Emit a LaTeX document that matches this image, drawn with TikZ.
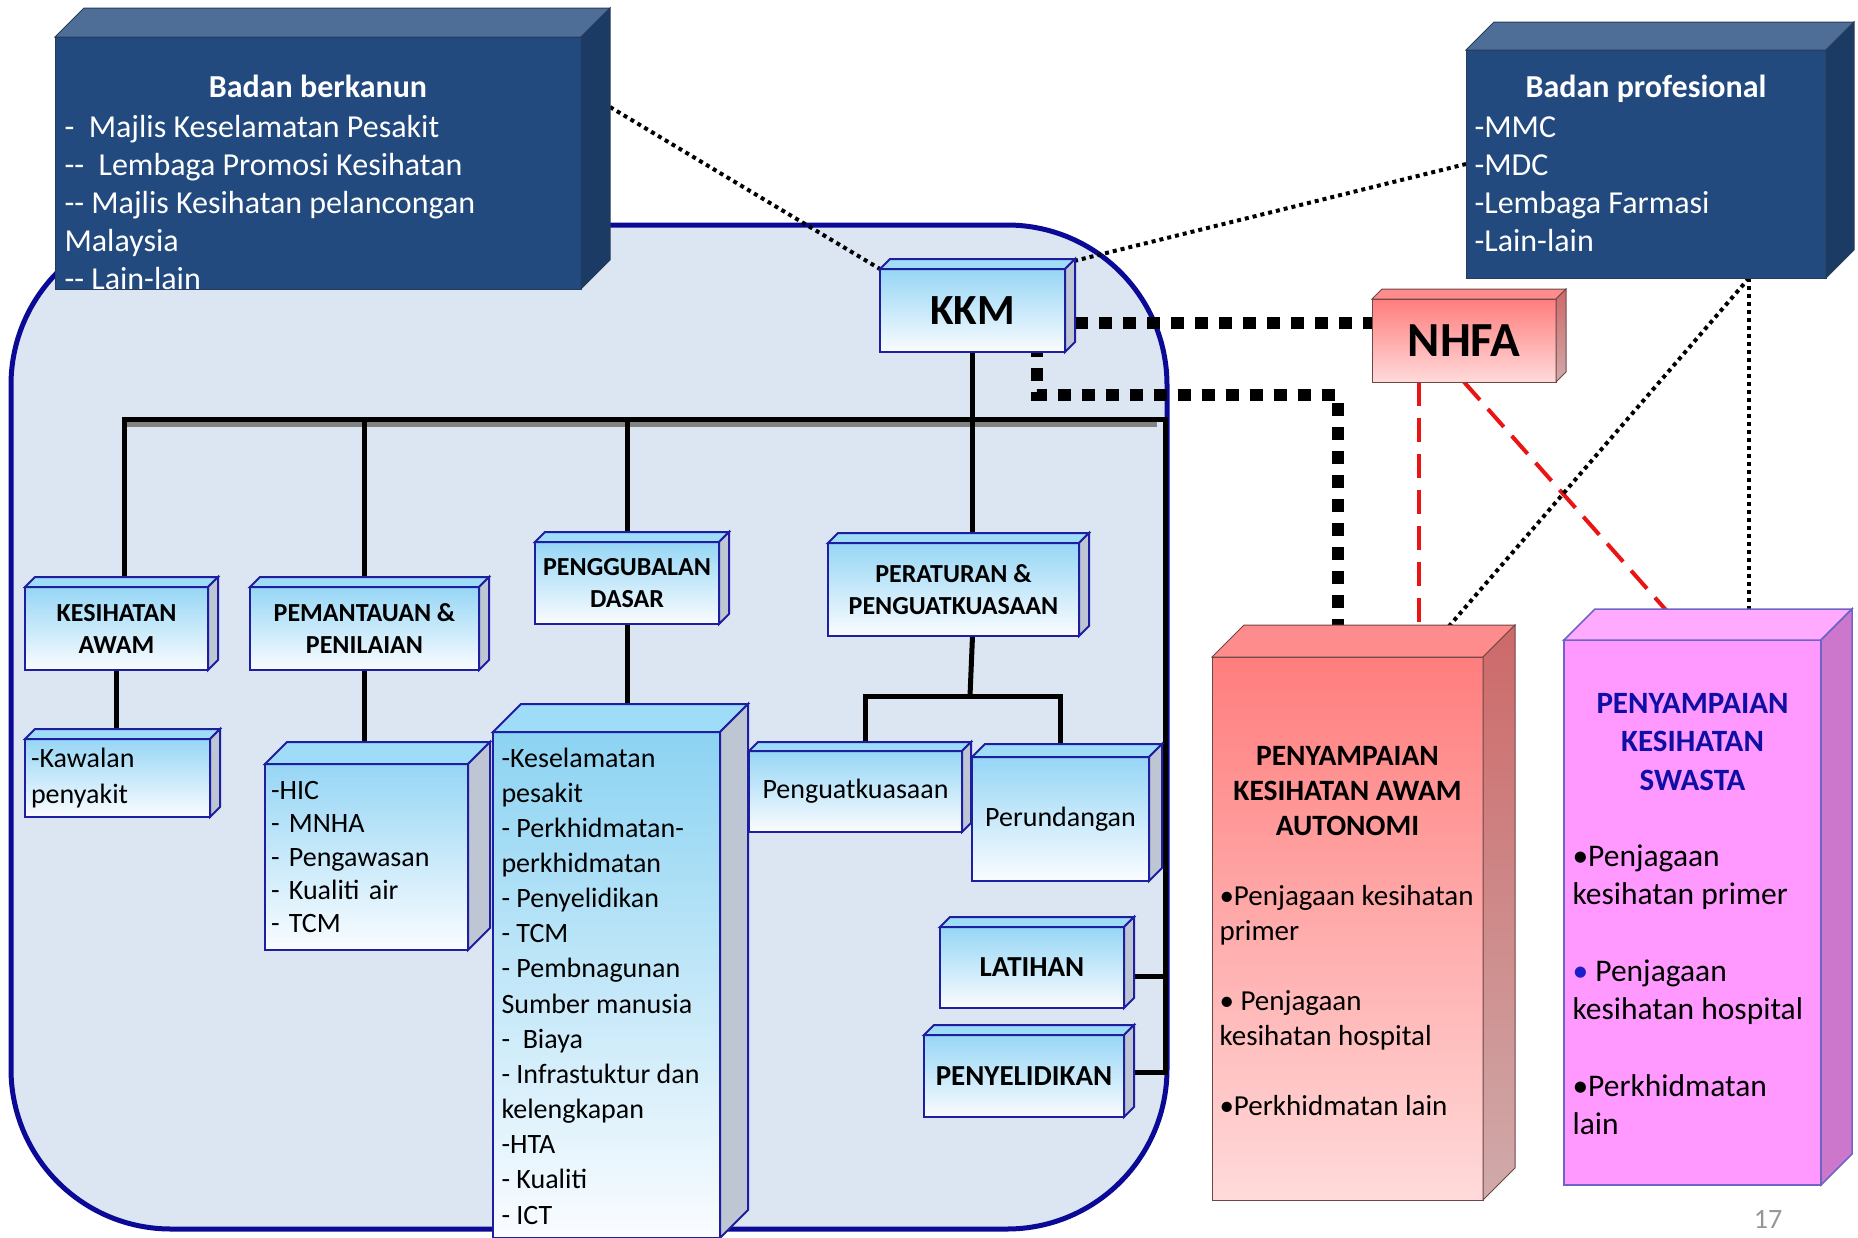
\documentclass[tikz,border=0pt]{standalone}
\usepackage{fontspec}
\setmainfont{Carlito}
\usetikzlibrary{calc}
\pgfdeclarelayer{latar}
\pgfdeclarelayer{garisan}
\pgfsetlayers{latar,garisan,main}

\definecolor{latarBiru}{RGB}{220,230,242}
\definecolor{biruTua}{RGB}{10,10,150}
\definecolor{tepiBiru}{RGB}{30,30,160}
\definecolor{biruAtas}{RGB}{158,220,247}
\definecolor{biruMuka}{RGB}{150,214,245}
\definecolor{biruSenarai}{RGB}{140,211,242}
\definecolor{putihMuka}{RGB}{250,252,255}
\definecolor{kelabuSisi}{RGB}{190,198,212}
\definecolor{navyMuka}{RGB}{34,74,126}
\definecolor{navyAtas}{RGB}{78,110,152}
\definecolor{navySisi}{RGB}{27,58,100}
\definecolor{navyTepi}{RGB}{40,60,90}
\definecolor{merahAtas}{RGB}{255,140,140}
\definecolor{merahMuka}{RGB}{255,125,125}
\definecolor{merahBawah}{RGB}{255,218,218}
\definecolor{merahSisi}{RGB}{205,105,105}
\definecolor{merahSisiB}{RGB}{208,170,170}
\definecolor{merahTepi}{RGB}{110,70,70}
\definecolor{merahGaris}{RGB}{235,20,20}
\definecolor{unguMuka}{RGB}{255,153,255}
\definecolor{unguAtas}{RGB}{255,170,255}
\definecolor{unguSisi}{RGB}{204,119,204}
\definecolor{unguTepi}{RGB}{110,100,200}
\definecolor{unguTajuk}{RGB}{15,15,165}
\definecolor{biruPeluru}{RGB}{30,30,200}
\definecolor{nomborHal}{RGB}{150,150,150}
\definecolor{bayang}{RGB}{130,130,130}

\tikzset{
  kotak/.style={draw=tepiBiru, line width=2pt, outer sep=0pt, inner sep=0pt, top color=biruMuka, bottom color=putihMuka, align=center},
  kotakNavy/.style={draw=navyTepi, line width=1pt, outer sep=0pt, fill=navyMuka},
  kotakMerah/.style={draw=merahTepi, line width=1pt, outer sep=0pt, top color=merahMuka, bottom color=merahBawah},
  kotakUngu/.style={draw=unguTepi, line width=1.5pt, outer sep=0pt, fill=unguMuka},
  atasBiru/.style={fill=biruAtas, draw=tepiBiru, line width=2pt},
  sisiBiru/.style={fill=kelabuSisi, draw=tepiBiru, line width=2pt},
  atasNavy/.style={fill=navyAtas, draw=navyTepi, line width=1pt},
  sisiNavy/.style={fill=navySisi, draw=navyTepi, line width=1pt},
  atasMerah/.style={fill=merahAtas, draw=merahTepi, line width=1pt},
  sisiMerah/.style={top color=merahSisi, bottom color=merahSisiB, draw=merahTepi, line width=1pt},
  atasUngu/.style={fill=unguAtas, draw=unguTepi, line width=1.5pt},
  sisiUngu/.style={fill=unguSisi, draw=unguTepi, line width=1.5pt},
  tebal/.style={font=\bfseries\fontsize{26}{32}\selectfont},
  biasa/.style={font=\fontsize{28}{36}\selectfont},
  garis/.style={line width=5pt},
  titik/.style={line width=4pt, dash pattern=on 4pt off 4pt},
  titikTebal/.style={line width=12pt, dash pattern=on 13pt off 11pt},
  merahPutus/.style={draw=merahGaris, line width=4pt, dash pattern=on 24pt off 12pt},
  bingkai/.style={draw=biruTua, line width=5pt, fill=latarBiru, rounded corners=160pt},
}

\begin{document}
\begin{tikzpicture}[x=1pt,y=-1pt]
\useasboundingbox (0,0) rectangle (1858,1237);
%kawasan KKM
\begin{pgfonlayer}{latar}
\draw[bingkai] (11,225) rectangle (1167,1229);
\end{pgfonlayer}

%badan di atas
\node[kotakNavy, minimum width=526pt, minimum height=252pt] (badanB) at (318,163) {};
\node[kotakNavy, minimum width=360pt, minimum height=228pt] (badanP) at (1646,164) {};
\node[kotak, font=\bfseries\fontsize{43}{50}\selectfont, minimum width=185pt, minimum height=83pt] (kkm) at (972.5,310.5) {KKM};
\node[kotakMerah, font=\bfseries\fontsize{49}{56}\selectfont, minimum width=184pt, minimum height=83pt] (nhfa) at (1464,340.5) {NHFA};

%bahagian dalam KKM
\node[kotak, tebal, minimum width=183pt, minimum height=83pt] (kesihatan) at (116.5,628.5) {KESIHATAN\\AWAM};
\node[kotak, biasa, align=left, text width=173pt, minimum width=185pt, minimum height=78pt] (kawalan) at (117.5,778) {-Kawalan\\penyakit};
\node[kotak, tebal, minimum width=229pt, minimum height=83pt] (pemantauan) at (364.5,628.5) {PEMANTAUAN \&\\PENILAIAN};
\node[kotak, align=left, text width=191pt, font=\fontsize{28}{33.5}\selectfont, minimum width=203pt, minimum height=186pt] (hic) at (366.5,857) {-HIC\\- MNHA\\- Pengawasan\\- Kualiti air\\- TCM};
\node[kotak, tebal, minimum width=184pt, minimum height=82pt] (dasar) at (627,583) {PENGGUBALAN\\DASAR};
\node[kotak, top color=biruSenarai, minimum width=227pt, minimum height=506pt] (senarai) at (606.5,985) {};
\node[kotak, tebal, minimum width=251pt, minimum height=93pt] (peraturan) at (953.5,589.5) {PERATURAN \&\\PENGUATKUASAAN};
\node[kotak, biasa, minimum width=213pt, minimum height=81pt] (penguat) at (855.5,791.5) {Penguatkuasaan};
\node[kotak, biasa, minimum width=177pt, minimum height=124pt] (perundangan) at (1060.5,819) {Perundangan};
\node[kotak, font=\bfseries\fontsize{29}{35}\selectfont, minimum width=184pt, minimum height=81pt] (latihan) at (1032,967.5) {LATIHAN};
\node[kotak, font=\bfseries\fontsize{29}{35}\selectfont, minimum width=200pt, minimum height=82pt] (penyelidikan) at (1024,1076) {PENYELIDIKAN};

%penyampaian
\node[kotakMerah, minimum width=271pt, minimum height=543pt] (awam) at (1347.5,928.5) {};
\node[kotakUngu, minimum width=257pt, minimum height=545pt] (swasta) at (1692.5,912.5) {};

%muka atas dan sisi
\foreach \nama/\dalam/\atas/\sisi in {badanB/29/atasNavy/sisiNavy, badanP/28/atasNavy/sisiNavy,
  kkm/10/atasBiru/sisiBiru, nhfa/10/atasMerah/sisiMerah, kesihatan/10/atasBiru/sisiBiru,
  kawalan/10/atasBiru/sisiBiru, pemantauan/10/atasBiru/sisiBiru, hic/22/atasBiru/sisiBiru,
  dasar/10/atasBiru/sisiBiru, senarai/28/atasBiru/sisiBiru, peraturan/10/atasBiru/sisiBiru,
  penguat/9/atasBiru/sisiBiru, perundangan/13/atasBiru/sisiBiru, latihan/10/atasBiru/sisiBiru,
  penyelidikan/10/atasBiru/sisiBiru, awam/32/atasMerah/sisiMerah, swasta/31/atasUngu/sisiUngu}{
  \path[\atas] (\nama.north west) -- ++(\dalam,-\dalam) -- ($(\nama.north east)+(\dalam,-\dalam)$) -- (\nama.north east) -- cycle;
  \path[\sisi] (\nama.north east) -- ++(\dalam,-\dalam) -- ($(\nama.south east)+(\dalam,-\dalam)$) -- (\nama.south east) -- cycle;
}

%teks (anchor base = baris terakhir)
\node[text=white, anchor=base, font=\bfseries\fontsize{32}{38}\selectfont] (tajukB) at (318,97) {Badan berkanun};
\node[text=white, anchor=base west, align=left, font=\fontsize{32}{38}\selectfont] (isiB) at (61,289)
  {-\ \ Majlis Keselamatan Pesakit\\-{}-\ \ Lembaga Promosi Kesihatan\\-{}- Majlis Kesihatan pelancongan\\Malaysia\\-{}- Lain-lain};
\node[text=white, anchor=base, font=\bfseries\fontsize{32}{38}\selectfont] (tajukP) at (1646,97) {Badan profesional};
\node[text=white, anchor=base west, align=left, font=\fontsize{32}{38}\selectfont] (isiP) at (1471,251)
  {-MMC\\-MDC\\-Lembaga Farmasi\\-Lain-lain};
\node[anchor=base west, align=left, font=\fontsize{28}{35.15}\selectfont] (isiSenarai) at (498,1224)
  {-Keselamatan\\pesakit\\- Perkhidmatan-\\perkhidmatan\\- Penyelidikan\\- TCM\\- Pembnagunan\\Sumber manusia\\-\ \ Biaya\\- Infrastuktur dan\\kelengkapan\\-HTA\\- Kualiti\\- ICT};
\node[anchor=base, align=center, font=\bfseries\fontsize{29.5}{35}\selectfont] (tajukAwam) at (1347.5,835)
  {PENYAMPAIAN\\KESIHATAN AWAM\\AUTONOMI};
\node[anchor=base west, align=left, font=\fontsize{29}{35}\selectfont] (isiAwam) at (1216,1115)
  {•Penjagaan kesihatan\\primer\\[35pt]• Penjagaan\\kesihatan hospital\\[35pt]•Perkhidmatan lain};
\node[anchor=base, align=center, text=unguTajuk, font=\bfseries\fontsize{31}{38.5}\selectfont] (tajukSwasta) at (1692.5,790)
  {PENYAMPAIAN\\KESIHATAN\\SWASTA};
\node[anchor=base west, align=left, font=\fontsize{31.5}{38}\selectfont] (isiSwasta) at (1569,1134)
  {•Penjagaan\\kesihatan primer\\[39pt]{\color{biruPeluru}•} Penjagaan\\kesihatan hospital\\[39pt]•Perkhidmatan\\lain};
\node[anchor=base, inner sep=0pt, text=nomborHal, font=\fontsize{28}{34}\selectfont] (hal) at (1768,1228) {17};

%garis penyambung
\begin{pgfonlayer}{garisan}
\coordinate (busR) at (1165,419);
\coordinate (cabang) at (970,696);
\coordinate (belok) at (1338,395);
\draw[garis, bayang] ($(kesihatan.north)+(8,-163)$) -- ($(busR)+(-8,5)$);
\draw[garis] ($(kesihatan.north)+(8,0)$) |- (busR) |- ($(penyelidikan.east)+(0,-4)$);
\draw[garis] (pemantauan.north |- busR) -- (pemantauan.north);
\draw[garis] (dasar.north |- busR) -- (dasar.north);
\draw[garis] (kkm.south) -- (kkm.south |- peraturan.north);
\draw[garis] ($(latihan.east)+(0,9)$) -- ($(latihan.east -| busR)+(0,9)$);
\draw[garis] (kesihatan.south) -- (kesihatan.south |- kawalan.north);
\draw[garis] (pemantauan.south) -- (pemantauan.south |- hic.north);
\draw[garis] (dasar.south) -- (dasar.south |- senarai.north);
\draw[garis] (kkm.south |- peraturan.south) -- (cabang);
\draw[garis] ($(penguat.north)+(10,0)$) |- (cabang) -| (perundangan.north);
%garis titik
\draw[titik] ($(badanB.east)+(29,-56)$) -- (kkm.north west);
\draw[titik] ($(kkm.north east)+(9,-8)$) -- (badanP.west);
\draw[titikTebal] ($(kkm.east)+(10,12)$) -- ($(nhfa.west)+(0,-18)$);
\draw[titikTebal] ($(kkm.south)+(64,-8)$) |- (belok) -- (belok |- awam.north);
\draw[merahPutus] ($(nhfa.south)+(-45,0)$) coordinate (m1) -- (m1 |- awam.north);
\draw[merahPutus] (nhfa.south) -- (swasta.north);
\draw[titik] ($(badanP.south)+(103,0)$) coordinate (p1) -- ($(awam.north)+(75,0)$);
\draw[titik] (p1) -- (p1 |- swasta.north);
\end{pgfonlayer}
\end{tikzpicture}
\end{document}
